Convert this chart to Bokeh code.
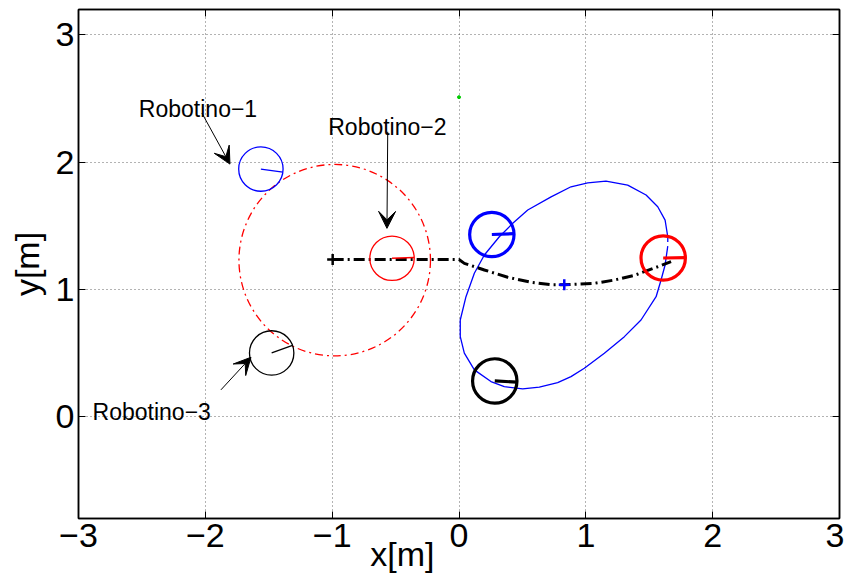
import numpy as np
from bokeh.plotting import figure
from bokeh.models import Arrow, VeeHead, LinearAxis, ColumnDataSource, FixedTicker
from bokeh.core.properties import value
from bokeh.embed import file_html
from bokeh.resources import INLINE

FONT = "Liberation Sans"

# ---------------- data ----------------
x_ticks = [-3, -2, -1, 0, 1, 2, 3]
y_ticks = [0, 1, 2, 3]
x_tick_labels = ["−3", "−2", "−1", "0", "1", "2", "3"]
y_tick_labels = ["0", "1", "2", "3"]
x_title = "x[m]"
y_title = "y[m]"

# robots: initial (thin) and final (thick) poses
robot_x = [-1.562, -0.528, -1.477, 0.259, 1.610, 0.282]
robot_y = [1.946, 1.245, 0.501, 1.432, 1.247, 0.281]
robot_heading_deg = [-8, 2, 20, 2, 1, -3]
robot_color = ["#0000ff", "#ff0000", "#000000", "#0000ff", "#ff0000", "#000000"]
robot_final = [False, False, False, True, True, True]
robot_radius = 0.175

# formation circle (red dash-dot)
form_cx, form_cy, form_r = -0.98, 1.23, 0.755

# blue trajectory (ellipse-like)
traj_x = [1.646, 1.625, 1.593, 1.554, 1.435, 1.304, 1.146, 0.988, 0.883, 0.778, 0.633,
          0.502, 0.357, 0.252, 0.121, 0.042, 0.010, 0.010, 0.055, 0.121, 0.200, 0.318,
          0.424, 0.542, 0.726, 0.883, 1.015, 1.159, 1.330, 1.475, 1.567, 1.625, 1.646, 1.646]
traj_y = [1.341, 1.192, 1.074, 0.943, 0.760, 0.629, 0.499, 0.381, 0.315, 0.268, 0.232,
          0.218, 0.237, 0.276, 0.368, 0.499, 0.629, 0.760, 0.943, 1.127, 1.271, 1.414,
          1.520, 1.624, 1.728, 1.807, 1.838, 1.852, 1.820, 1.742, 1.650, 1.545, 1.414, 1.373]

# black dash-dot path of the formation centre
path_x = [-0.996, 0.0, 0.042, 0.200, 0.384, 0.568, 0.726, 0.830, 1.067, 1.225, 1.382, 1.554, 1.672]
path_y = [1.235, 1.235, 1.205, 1.153, 1.096, 1.056, 1.037, 1.037, 1.048, 1.074, 1.111, 1.174, 1.218]

start_pt = (-0.996, 1.235)
centre_pt = (0.830, 1.037)
green_pt = (0.0, 2.511)

# annotations
ann_text = ["Robotino−1", "Robotino−2", "Robotino−3"]
ann_x = [-2.524, -1.031, -2.889]
ann_y = [2.417, 2.278, 0.040]
arrow_x0 = [-2.027, -0.562, -1.877]
arrow_y0 = [2.386, 2.239, 0.211]
arrow_x1 = [-1.806, -0.568, -1.640]
arrow_y1 = [1.985, 1.480, 0.467]

# ---------------- figure ----------------
p = figure(width=844, height=578, x_range=(-3, 3), y_range=(-0.8, 3.2),
           output_backend="svg", toolbar_location=None,
           min_border_left=78, min_border_right=5, min_border_top=9, min_border_bottom=60)
p.background_fill_color = "white"
p.border_fill_color = "white"
p.outline_line_color = "black"
p.outline_line_width = 1.5

for ax, ticks, labels in ((p.xaxis[0], x_ticks, x_tick_labels), (p.yaxis[0], y_ticks, y_tick_labels)):
    ax.ticker = FixedTicker(ticks=ticks)
    ax.major_label_overrides = {t: l for t, l in zip(ticks, labels)}
    ax.major_label_text_font = FONT
    ax.major_label_text_font_size = "34px"
    ax.major_label_text_color = "black"
    ax.major_tick_in = 7
    ax.major_tick_out = 0
    ax.minor_tick_line_color = None
    ax.axis_line_width = 1.5
    ax.major_tick_line_width = 1
    ax.axis_label_text_font = FONT
    ax.axis_label_text_font_size = "34px"
    ax.axis_label_text_font_style = "normal"
    ax.axis_label_text_color = "black"
p.xaxis.major_label_standoff = 5
p.yaxis.major_label_standoff = 4
# the x title sits left of centre, between the -1 and 0 tick labels
p.xaxis.axis_label = x_title + "\u00a0" * 12
p.xaxis.axis_label_standoff = -15
p.yaxis.axis_label = y_title
p.yaxis.axis_label_standoff = 7

for loc, ticks in (("above", x_ticks), ("right", y_ticks)):
    ax = LinearAxis(ticker=FixedTicker(ticks=ticks),
                    major_label_overrides={t: "" for t in ticks},
                    major_label_text_font_size="1px", major_label_standoff=0,
                    major_tick_in=7, major_tick_out=0, minor_tick_line_color=None,
                    axis_line_width=1.5)
    p.add_layout(ax, loc)

for g, ticks in ((p.xgrid, x_ticks), (p.ygrid, y_ticks)):
    g.ticker = FixedTicker(ticks=ticks)
    g.grid_line_color = "#000000"
    g.grid_line_alpha = 0.6
    g.grid_line_dash = "1 3"
    g.grid_line_width = 1

# formation circle
p.circle(x=[form_cx], y=[form_cy], radius=form_r, fill_color=None,
         line_color="#ff0000", line_width=1.3, line_dash="8 4 2 4")

# blue trajectory
p.line(traj_x, traj_y, line_color="#0000ff", line_width=1.3)

# black path
p.line(path_x, path_y, line_color="black", line_width=3, line_dash="11 4 2 4")

# robots
rx = np.array(robot_x)
ry = np.array(robot_y)
th = np.deg2rad(np.array(robot_heading_deg))
lw = [3.2 if f else 1.3 for f in robot_final]
src = ColumnDataSource(dict(x=rx, y=ry, x1=rx + robot_radius * np.cos(th),
                            y1=ry + robot_radius * np.sin(th), c=robot_color, lw=lw))
p.circle(x="x", y="y", radius=robot_radius, fill_color=None, line_color="c",
         line_width="lw", source=src)
p.segment(x0="x", y0="y", x1="x1", y1="y1", line_color="c", line_width="lw", source=src)

# markers
p.scatter([start_pt[0]], [start_pt[1]], marker="cross", size=11, line_width=2.5, line_color="black")
p.scatter([centre_pt[0]], [centre_pt[1]], marker="cross", size=11, line_width=2.5, line_color="#0000ff")
p.scatter([green_pt[0]], [green_pt[1]], marker="circle", size=3, line_color="#00cc00", fill_color="#00cc00")

# annotations
p.text(x=ann_x, y=ann_y, text=ann_text, text_font=value(FONT), text_font_size="23px",
       text_align="left", text_baseline="alphabetic", text_color="black")
asrc = ColumnDataSource(dict(x0=arrow_x0, y0=arrow_y0, x1=arrow_x1, y1=arrow_y1))
p.add_layout(Arrow(end=VeeHead(size=17, fill_color="black", line_color="black", line_width=1),
                   x_start="x0", y_start="y0", x_end="x1", y_end="y1",
                   line_color="black", line_width=1, source=asrc))

open("out.html", "w").write(file_html(p, INLINE))
